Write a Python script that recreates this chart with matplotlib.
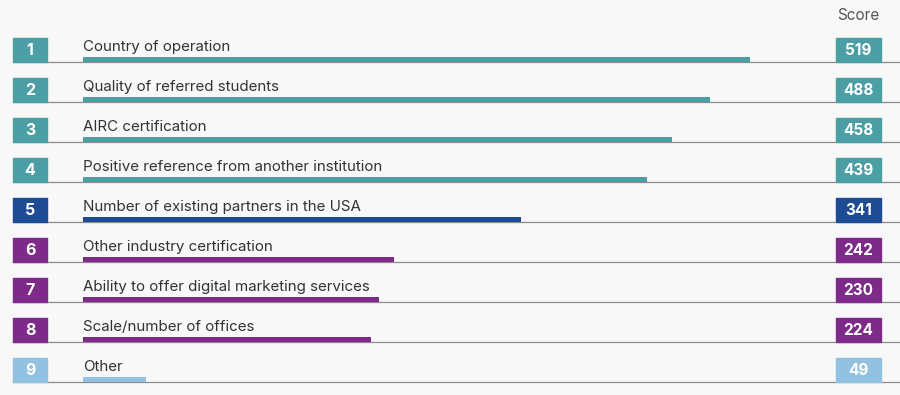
import matplotlib.pyplot as plt
from matplotlib.patches import Rectangle

plt.rcParams['font.family'] = ['Inter', 'DejaVu Sans']

ranks = [1, 2, 3, 4, 5, 6, 7, 8, 9]
labels = ['Country of operation', 'Quality of referred students', 'AIRC certification',
          'Positive reference from another institution', 'Number of existing partners in the USA',
          'Other industry certification', 'Ability to offer digital marketing services',
          'Scale/number of offices', 'Other']
scores = [519, 488, 458, 439, 341, 242, 230, 224, 49]

teal = '#4b9fa4'
blue = '#1f4b95'
purple = '#7d2a88'
light = '#92c1e2'
colors = [teal, teal, teal, teal, blue, purple, purple, purple, light]

bg = '#f8f8f8'
txt = '#333333'

fig = plt.figure(figsize=(9, 3.95), dpi=100, facecolor=bg)
ax = fig.add_axes([0, 0, 1, 1])
ax.set_facecolor(bg)

# x in score units: 0 sits at px 83, 1 unit ~ 1.285 px
u = 0.7781
def px(p):
    return (p - 83) * u

ax.set_xlim(px(0), px(900))
ax.set_ylim(395, 0)
ax.axis('off')

pitch = 40
base0 = 62
for i, (r, lab, s, c) in enumerate(zip(ranks, labels, scores, colors)):
    yb = base0 + i * pitch
    # grey base line
    ax.plot([px(13), px(900)], [yb, yb], color='#8a8a8a', lw=0.9, zorder=1)
    # bar
    ax.barh(yb - 2.7, s, height=5.4, left=0, color=c, zorder=2)
    # rank box
    ax.add_patch(Rectangle((px(13), yb - 24.5), px(47) - px(13), 24.5, color=c, zorder=3))
    ax.text((px(13) + px(47)) / 2, yb - 11.5, str(r), color='white', fontsize=11.5,
            fontweight='bold', ha='center', va='center', zorder=4)
    # score box
    ax.add_patch(Rectangle((px(836), yb - 24.5), px(881) - px(836), 24.5, color=c, zorder=3))
    ax.text((px(836) + px(881)) / 2, yb - 11.5, str(s), color='white', fontsize=11,
            fontweight='bold', ha='center', va='center', zorder=4)
    # label
    ax.text(px(83), yb - 11, lab, color=txt, fontsize=10.9, ha='left', va='baseline', zorder=4)

ax.text((px(836) + px(881)) / 2, 16, 'Score', color='#555555', fontsize=11,
        ha='center', va='center')

fig.savefig('out.png', dpi=100, facecolor=bg)
